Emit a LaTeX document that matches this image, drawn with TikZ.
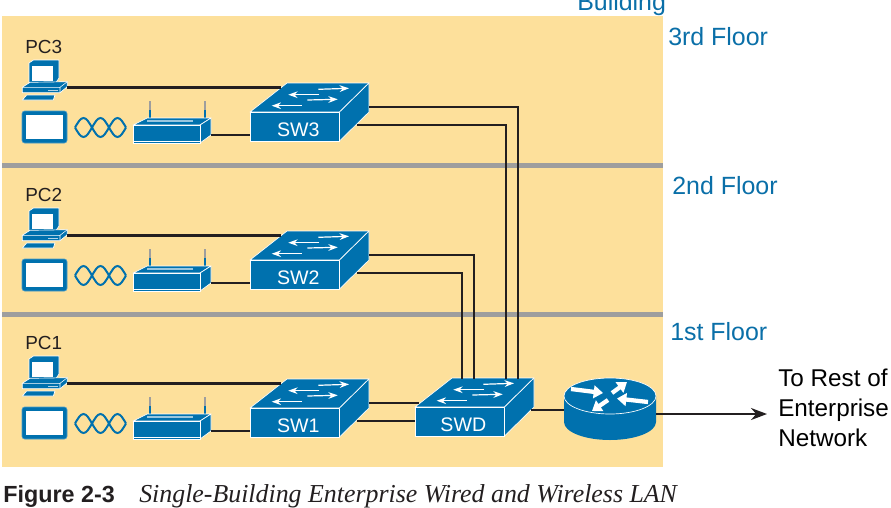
\documentclass[tikz,border=0pt]{standalone}
\usepackage{fontspec}
\setmainfont{Liberation Sans}
\newfontfamily\capserif{Liberation Serif}
\usetikzlibrary{arrows.meta}
\definecolor{ciscoblue}{HTML}{0071AE}
\definecolor{floorbg}{HTML}{FDE09B}
\definecolor{floorbar}{HTML}{9E9E9E}
\definecolor{cablecol}{HTML}{231F20}
\definecolor{labelblue}{HTML}{0A6FA8}
\tikzset{
  cable/.style={draw=cablecol, line width=1.7pt},
  skin/.style={fill=ciscoblue, draw=white, line width=0.5pt, line join=round},
  floorlabel/.style={anchor=base west, inner sep=0pt, text=labelblue, font=\fontsize{18.7}{22}\selectfont},
  pclabel/.style={anchor=base west, inner sep=0pt, text=cablecol, font=\fontsize{14.2}{17}\selectfont},
  switchface/.style={skin, anchor=north west, minimum width=67pt, minimum height=21.8pt,
    inner sep=0pt, text=white, font=\fontsize{14.7}{17}\selectfont},
  flowarrow/.style={draw=white, line width=0.9pt, -{Stealth[length=7pt,width=5pt]}},
  fatarrow/.style={draw=white, line width=3.2pt, -{Triangle[length=7pt,width=9.5pt]}},
  pics/switchbox/.style={code={
    \path[skin] (0,0) -- (37,-29) -- (119,-29) -- (89.5,0) -- cycle;
    \path[skin] (89.5,0) -- (119,-29) -- (119,0) -- (89.5,29) -- cycle;
    \node[switchface] (-face) at (0,0) {\hspace*{5pt}\raisebox{0pt}[14.3pt][0pt]{#1}};
    \draw[flowarrow] (68.3,-22.7) -- (99,-23.7);
    \draw[flowarrow] (69.3,-17.3) -- (38.3,-17.3);
    \draw[flowarrow] (57.3,-12) -- (87.7,-12.7);
    \draw[flowarrow] (51.7,-6.3) -- (21.7,-6.3);
    \coordinate (-lefttop) at (31,-24.5);
    \coordinate (-leftlow) at (0,22.7);
    \coordinate (-outa) at (119,-5);
    \coordinate (-outb) at (106.5,13);
    \coordinate (-ina) at (4,-4);
    \coordinate (-inb) at (0,14);
    \coordinate (-upa) at (47,-28);
    \coordinate (-upb) at (59,-28);
    \coordinate (-upc) at (91,-28);
    \coordinate (-upd) at (103,-28);
    \coordinate (-eastlow) at (116,3);
  }},
  pics/pccomp/.style={code={
    \path[skin] (7,3) -- (11.5,0) -- (37,0) -- (37,18) -- (33,24) -- (7,24) -- cycle;
    \fill[white] (10,6) rectangle (31,21);
    \path[skin] (0.3,27.3) -- (8,22.3) -- (45.3,21.7) -- (45.3,26.7) -- (38,32.7) -- (0.3,32.7) -- cycle;
    \draw[white, line width=0.4pt] (0.3,27.3) -- (38,27.3) -- (45.3,21.7) (38,27.3) -- (38,32.7);
    \fill[white!70!ciscoblue] (26.3,29.8) rectangle (36.3,31);
    \path[skin] (0.3,40) -- (4.7,35) -- (33,35) -- (31.3,40) -- cycle;
    \coordinate (-port) at (45.3,27.5);
  }},
  pics/tabletbox/.style={code={
    \draw[fill=ciscoblue, draw=ciscoblue!70!white, line width=0.5pt, rounded corners=2pt] (0,0) rectangle (45,32);
    \fill[white] (4,4) rectangle (41,28);
  }},
  pics/wavelink/.style={code={
    \draw[ciscoblue, line width=1.5pt] (0,0) sin (8.5,-9.5) cos (17,0) sin (25.5,9.5) cos (34,0) sin (42.5,-9.5) cos (51,0);
    \draw[ciscoblue, line width=1.5pt] (0,0) sin (8.5,9.5) cos (17,0) sin (25.5,-9.5) cos (34,0) sin (42.5,9.5) cos (51,0);
  }},
  pics/apbox/.style={code={
    \draw[ciscoblue, line width=1.3pt] (17,-7) -- (17,-15);
    \draw[ciscoblue, line width=1.3pt] (72,-7) -- (72,-15);
    \draw[floorbar, line width=1pt] (17,-15) -- (17,-24) (72,-15) -- (72,-24);
    \path[skin] (0,0) -- (14,-7) -- (78,-7) -- (67,0) -- cycle;
    \path[skin] (67,0) -- (78,-7) -- (78,10) -- (67,18) -- cycle;
    \path[skin] (0,0) rectangle (67,18);
    \draw[white, line width=0.5pt] (0,16) -- (67,16);
    \draw[white!60!ciscoblue, line width=1pt] (14,-4) -- (60,-4);
    \coordinate (-port) at (78,9.7);
  }},
  pics/routerdisk/.style={code={
    \path[fill=ciscoblue] (-46,0) -- (-46,26) arc[start angle=180, end angle=360, x radius=46, y radius=-18] -- (46,0) -- cycle;
    \draw[fill=ciscoblue, draw=white, line width=0.5pt] (0,0) ellipse[x radius=46, y radius=18];
    \draw[fatarrow] (-39,-7) -- (-7,-3);
    \draw[fatarrow] (2,-3) -- (17,-14);
    \draw[fatarrow] (38,6) -- (7,2.5);
    \draw[fatarrow] (-2,4) -- (-18,15);
    \coordinate (-west) at (-46,14);
    \coordinate (-east) at (46,18);
  }},
}
\begin{document}
\begin{tikzpicture}[x=0.75pt, y=-0.75pt]
  \useasboundingbox (0,0) rectangle (891,507);
  % building background and floors
  \fill[floorbg] (2,16) rectangle (663,467);
  \fill[floorbar] (2,163) rectangle (663,167.5);
  \fill[floorbar] (2,312) rectangle (663,316.5);
  \node[floorlabel] (building) at (577,10) {Building};
  \node[floorlabel] (floor3) at (668,45) {3rd Floor};
  \node[floorlabel] (floor2) at (672,194) {2nd Floor};
  \node[floorlabel] (floor1) at (670,340) {1st Floor};
  % third floor
  \node[pclabel] (pc3label) at (25,53) {PC3};
  \pic (pc3) at (22,60) {pccomp};
  \pic (tablet3) at (22,111) {tabletbox};
  \pic (wave3) at (75,127.5) {wavelink};
  \pic (ap3) at (133,125) {apbox};
  \pic (sw3) at (250,112) {switchbox=SW3};
  % second floor
  \node[pclabel] (pc2label) at (25,201) {PC2};
  \pic (pc2) at (22,208) {pccomp};
  \pic (tablet2) at (22,259) {tabletbox};
  \pic (wave2) at (75,275.5) {wavelink};
  \pic (ap2) at (133,273) {apbox};
  \pic (sw2) at (250,260) {switchbox=SW2};
  % first floor
  \node[pclabel] (pc1label) at (25,349) {PC1};
  \pic (pc1) at (22,356) {pccomp};
  \pic (tablet1) at (22,407) {tabletbox};
  \pic (wave1) at (75,423.5) {wavelink};
  \pic (ap1) at (133,421) {apbox};
  \pic (sw1) at (250,408) {switchbox=SW1};
  \pic (swd) at (415,407) {switchbox=SWD};
  \pic (rtr) at (610,396) {routerdisk};
  \node[anchor=north west, align=left, inner sep=0pt, text=black,
    font=\fontsize{18.2}{22.2}\selectfont] (rest) at (778,369) {To Rest of\\Enterprise\\Network};
  \coordinate (resttip) at (767,414);
  % connectors
  \path[cable]
  (pc3-port) edge (sw3-lefttop)
  (ap3-port) edge (sw3-leftlow)
  (pc2-port) edge (sw2-lefttop)
  (ap2-port) edge (sw2-leftlow)
  (pc1-port) edge (sw1-lefttop)
  (ap1-port) edge (sw1-leftlow)
  (sw1-outa) edge (swd-ina)
  (sw1-outb) edge (swd-inb)
  (swd-eastlow) edge (rtr-west)
  ;
  \draw[cable] (sw3-outa) -| (swd-upd);
  \draw[cable] (sw3-outb) -| (swd-upc);
  \draw[cable] (sw2-outa) -| (swd-upb);
  \draw[cable] (sw2-outb) -| (swd-upa);
  \draw[cable, -{Stealth[length=12pt,width=9pt]}] (rtr-east) -- (resttip);
  % caption
  \node[anchor=base west, inner sep=0pt, text=cablecol, font=\fontsize{17.5}{20}\bfseries\selectfont] (figno) at (3,502) {Figure 2-3};
  \node[anchor=base west, inner sep=0pt, text=cablecol, font=\capserif\fontsize{19.4}{23}\itshape\selectfont] (figtitle) at (139,502) {Single-Building Enterprise Wired and Wireless LAN};
\end{tikzpicture}
\end{document}
